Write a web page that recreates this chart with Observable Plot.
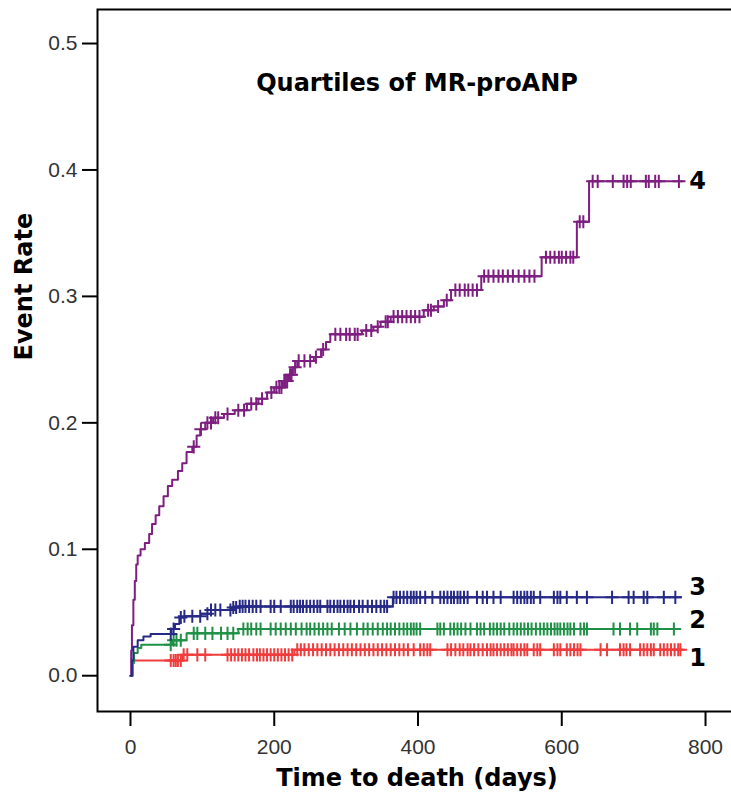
<!DOCTYPE html>
<html><head><meta charset="utf-8">
<script src="https://cdn.jsdelivr.net/npm/d3@7"></script>
<script src="https://cdn.jsdelivr.net/npm/@observablehq/plot@0.6"></script>
<style>html,body{margin:0;padding:0;overflow:hidden;background:#fff;} #chart svg{max-width:none !important;}</style>
</head><body><div id="chart"></div>
<script>
// ---- data ----
const quartiles = ["1", "2", "3", "4"];

const q1Times = [0, 3, 72, 228, 768];
const q1Rates = [0, 0.012, 0.0165, 0.0205, 0.0205];
const q1Censored = [56,60,63,66,70,74,79,93,104,135,140,145,150,155,160,165,171,176,180,185,190,195,200,205,210,215,220,225,232,237,242,248,254,260,266,272,278,284,290,296,302,308,314,320,326,332,338,344,350,356,362,368,374,380,386,394,403,408,413,417,441,446,452,458,463,469,473,478,484,490,496,501,505,510,515,520,525,530,533,538,543,548,552,561,566,570,589,594,598,607,612,617,622,626,654,663,681,686,690,695,709,714,719,724,728,737,742,747,752,757,762,765];

const q2Times = [0, 3, 5, 10, 15, 58, 78, 150, 765];
const q2Rates = [0, 0.01, 0.018, 0.022, 0.0245, 0.028, 0.0335, 0.037, 0.037];
const q2Censored = [56,60,64,70,88,93,104,114,126,135,143,157,163,168,175,181,195,202,209,216,223,230,238,245,250,256,262,268,274,280,290,298,306,315,324,330,337,344,351,357,362,368,374,380,385,390,394,398,403,427,431,436,445,450,455,460,466,473,482,487,492,500,505,510,515,520,527,533,538,543,548,553,558,564,570,575,580,585,590,594,598,603,608,612,617,626,631,635,672,681,695,705,724,728,733,756];

const q3Times = [0, 2, 4, 10, 18, 28, 57, 62, 68, 75, 98, 112, 140, 150, 365, 766];
const q3Rates = [0, 0.012, 0.023, 0.028, 0.031, 0.033, 0.037, 0.041, 0.046, 0.047, 0.049, 0.052, 0.054, 0.0548, 0.062, 0.062];
const q3Censored = [56,60,70,75,86,97,107,112,118,125,139,143,147,152,156,160,165,170,175,181,195,200,209,223,227,232,236,240,245,250,255,260,264,274,278,283,288,292,297,302,306,311,318,323,330,336,342,348,353,357,366,370,375,380,385,390,394,398,403,410,420,431,436,441,446,450,455,459,464,469,482,490,496,505,515,533,538,543,548,552,557,561,570,589,594,598,607,621,635,670,693,700,714,719,742,758];

const q4Times = [0,1,2,4,6,8,10,14,20,26,30,35,40,46,52,58,66,72,78,86,92,97,104,115,130,145,162,178,190,200,212,220,226,232,255,265,272,278,322,338,348,362,408,422,436,446,488,572,621,638,768];
const q4Rates = [0,0.02,0.04,0.06,0.075,0.088,0.095,0.1,0.105,0.112,0.12,0.127,0.134,0.142,0.15,0.155,0.162,0.168,0.177,0.181,0.19,0.195,0.2,0.204,0.207,0.21,0.215,0.219,0.224,0.228,0.233,0.238,0.244,0.249,0.252,0.258,0.264,0.27,0.273,0.276,0.28,0.284,0.289,0.292,0.297,0.305,0.316,0.331,0.359,0.391,0.391];
const q4Censored = [88,98,107,112,118,122,135,150,158,168,175,183,196,203,207,210,214,216,218,222,224,229,234,242,250,258,268,285,292,300,305,312,316,328,335,344,355,358,366,372,378,384,390,396,402,414,418,428,440,452,458,465,470,476,482,492,498,505,512,518,525,532,540,548,555,562,578,584,590,596,600,606,612,616,625,630,643,650,671,686,691,696,717,721,730,735,763];

const xTicks = [0, 200, 400, 600, 800];
const yTicks = [0, 0.1, 0.2, 0.3, 0.4, 0.5];
const titleText = "Quartiles of MR-proANP";
const xLabel = "Time to death (days)";
const yLabel = "Event Rate";

// ---- styling ----
const colors = ["#f03c3c", "#1f9146", "#262a86", "#7e1e80"];
const labelDy = {"1": 9, "2": -9, "3": -10, "4": 0};
const boldFont = "DejaVu Sans, Verdana, sans-serif";

const series = [
  {q: "4", times: q4Times, rates: q4Rates, cens: q4Censored},
  {q: "1", times: q1Times, rates: q1Rates, cens: q1Censored},
  {q: "2", times: q2Times, rates: q2Rates, cens: q2Censored},
  {q: "3", times: q3Times, rates: q3Rates, cens: q3Censored}
];
const steps = series.flatMap(s => s.times.map((t, i) => ({q: s.q, t, r: s.rates[i]})));
const censors = series.flatMap(s => s.cens.map(t => ({q: s.q, t, r: s.rates[d3.bisectRight(s.times, t) - 1]})));
const ends = series.map(s => ({q: s.q, r: s.rates[s.rates.length - 1]}));

const chart = Plot.plot({
  width: 740, height: 805,
  marginLeft: 97, marginRight: 4, marginTop: 9, marginBottom: 94,
  style: {fontFamily: "Liberation Sans, Arial, sans-serif", background: "#fff", color: "black", maxWidth: "none", width: "740px", height: "805px"},
  x: {domain: [-45.9, 843.1]},
  y: {domain: [-0.0283, 0.5269]},
  color: {domain: quartiles, range: colors},
  marks: [
    Plot.axisY(yTicks, {tickSize: 15, tickPadding: 5, tickFormat: d3.format(".1f"), fontSize: 21, fill: "#333", stroke: "black", strokeWidth: 2, label: null}),
    Plot.axisX(xTicks, {tickSize: 15, tickPadding: 13, tickFormat: d3.format("d"), fontSize: 21, fill: "#333", stroke: "black", strokeWidth: 2, label: null}),
    Plot.line(steps, {x: "t", y: "r", z: "q", stroke: "q", curve: "step-after", strokeWidth: 2}),
    Plot.dot(censors, {x: "t", y: "r", stroke: "q", symbol: "plus", r: 4.3, strokeWidth: 2}),
    Plot.frame({stroke: "black", strokeWidth: 2}),
    Plot.text([titleText], {text: d => d, frameAnchor: "top", dy: 73.5, lineAnchor: "middle", fontSize: 24, fontWeight: "bold", fontFamily: boldFont, fill: "black"}),
    Plot.text([xLabel], {text: d => d, frameAnchor: "bottom", dy: 67, lineAnchor: "middle", fontSize: 24, fontWeight: "bold", fontFamily: boldFont, fill: "black"}),
    Plot.text([yLabel], {text: d => d, frameAnchor: "left", dx: -73, rotate: -90, lineAnchor: "middle", fontSize: 24, fontWeight: "bold", fontFamily: boldFont, fill: "black"}),
    ...ends.map(e => Plot.text([e], {y: "r", text: "q", frameAnchor: "right", dx: -30.5, dy: labelDy[e.q], lineAnchor: "middle", fontSize: 24, fontWeight: "bold", fontFamily: boldFont, fill: "black"}))
  ]
});
document.getElementById("chart").appendChild(chart);
</script>
</body></html>
